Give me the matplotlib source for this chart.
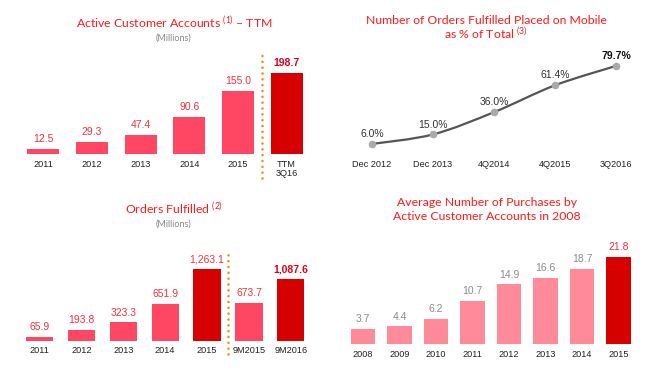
import matplotlib
matplotlib.use("Agg")
import matplotlib.pyplot as plt
from matplotlib.path import Path
from matplotlib.patches import PathPatch
import numpy as np

# ---------------- data ----------------
acct_labels = ["2011", "2012", "2013", "2014", "2015", "TTM\n3Q16"]
acct_values = [12.5, 29.3, 47.4, 90.6, 155.0, 198.7]
acct_text = ["12.5", "29.3", "47.4", "90.6", "155.0", "198.7"]

mobile_labels = ["Dec 2012", "Dec 2013", "4Q2014", "4Q2015", "3Q2016"]
mobile_values = [6.0, 15.0, 36.0, 61.4, 79.7]

orders_labels = ["2011", "2012", "2013", "2014", "2015", "9M2015", "9M2016"]
orders_values = [65.9, 193.8, 323.3, 651.9, 1263.1, 673.7, 1087.6]
orders_text = ["65.9", "193.8", "323.3", "651.9", "1,263.1", "673.7", "1,087.6"]

purch_labels = ["2008", "2009", "2010", "2011", "2012", "2013", "2014", "2015"]
purch_values = [3.7, 4.4, 6.2, 10.7, 14.9, 16.6, 18.7, 21.8]

# ---------------- style ----------------
plt.rcParams["mathtext.fontset"] = "custom"
plt.rcParams["mathtext.rm"] = "Lato"
plt.rcParams["mathtext.it"] = "Lato:italic"
plt.rcParams["mathtext.bf"] = "Lato:bold"

W, H = 660, 383
PINK = "#FF4763"
DARK = "#D70000"
LIGHT = "#FF8A99"
VALRED = "#F5303F"
BOLDRED = "#E0001B"
TITLE = "#FF1A1A"
ORANGE = "#F28C28"
TFONT = ["Lato", "DejaVu Sans"]
LFONT = ["Liberation Sans", "DejaVu Sans"]
TSIZE = 8.8
VSIZE = 7.5
KSIZE = 6.6

fig = plt.figure(figsize=(W / 100, H / 100), dpi=100)
fig.patch.set_facecolor("white")


def add_ax(x0, x1, ybase, ytop):
    # pixel coords (from top) -> figure fraction
    return fig.add_axes([x0 / W, (H - ybase) / H, (x1 - x0) / W, (ybase - ytop) / H])


def clean(ax):
    for s in ax.spines.values():
        s.set_visible(False)
    ax.set_yticks([])
    ax.tick_params(axis="x", length=0, pad=4)
    ax.set_facecolor("none")


def ftext(x, y, s, **kw):
    fig.text(x / W, 1 - y / H, s, ha="center", va="center", **kw)


DOTS = dict(color=ORANGE, lw=1.9, linestyle=(0, (0.01, 2.2)), dash_capstyle="round", clip_on=False)

# ---------------- top-left: active customer accounts ----------------
ax1 = add_ax(19, 311, 154, 52)
clean(ax1)
x = np.arange(len(acct_values))
cols = [PINK] * 5 + [DARK]
ax1.bar(x, acct_values, width=0.66, color=cols)
ax1.set_xlim(-0.5, len(acct_values) - 0.5)
ax1.set_ylim(0, 250)
ax1.set_xticks(x)
ax1.set_xticklabels(acct_labels, fontsize=KSIZE, family=LFONT, color="#222222", linespacing=1.1)
for i, (v, t) in enumerate(zip(acct_values, acct_text)):
    last = i == len(acct_values) - 1
    ax1.annotate(t, (i, v), xytext=(0, 3.5), textcoords="offset points", ha="center", va="bottom",
                 fontsize=VSIZE, family=LFONT, color=BOLDRED if last else VALRED,
                 fontweight="bold" if last else "normal")
ax1.plot([4.5, 4.5], [-59, 255], **DOTS)
ftext(174, 23, "Active Customer Accounts $^{(1)}$ – TTM", fontsize=TSIZE, color=TITLE, family=TFONT)
ftext(174, 38, "(Millions)", fontsize=6.5, color="#888888", family=TFONT)

# ---------------- top-right: mobile share ----------------
ax2 = add_ax(341.5, 646.5, 150.3, 55)
clean(ax2)
xm = np.arange(len(mobile_values), dtype=float)
ym = np.array(mobile_values)
# smooth curve through the points using Bezier segments (Catmull-Rom control points)
verts = [(xm[0], ym[0])]
codes = [Path.MOVETO]
n = len(xm)
for i in range(n - 1):
    p0 = (xm[max(i - 1, 0)], ym[max(i - 1, 0)])
    p1 = (xm[i], ym[i])
    p2 = (xm[i + 1], ym[i + 1])
    p3 = (xm[min(i + 2, n - 1)], ym[min(i + 2, n - 1)])
    c1 = (p1[0] + (p2[0] - p0[0]) / 6, p1[1] + (p2[1] - p0[1]) / 6)
    c2 = (p2[0] - (p3[0] - p1[0]) / 6, p2[1] - (p3[1] - p1[1]) / 6)
    verts += [c1, c2, p2]
    codes += [Path.CURVE4] * 3
ax2.add_patch(PathPatch(Path(verts, codes), facecolor="none", edgecolor="#555555", lw=1.6))
ax2.scatter(xm, ym, s=20, color="#AAAAAA", zorder=3)
ax2.set_xlim(-0.5, n - 0.5)
ax2.set_ylim(0, 90)
ax2.set_xticks(xm)
ax2.set_xticklabels(mobile_labels, fontsize=KSIZE, family=LFONT, color="#222222")
ax2.tick_params(axis="x", pad=7)
for i, v in enumerate(mobile_values):
    last = i == n - 1
    ax2.annotate(f"{v:.1f}%", (i, v), xytext=(0, 3.5), textcoords="offset points", ha="center",
                 va="bottom", fontsize=VSIZE, family=LFONT, color="#111111" if last else "#333333",
                 fontweight="bold" if last else "normal")
ftext(486, 20, "Number of Orders Fulfilled Placed on Mobile", fontsize=TSIZE, color=TITLE, family=TFONT)
ftext(486, 34, "as % of Total $^{(3)}$", fontsize=TSIZE, color=TITLE, family=TFONT)

# ---------------- bottom-left: orders fulfilled ----------------
ax3 = add_ax(18.5, 311.8, 340.7, 250)
clean(ax3)
x = np.arange(len(orders_values))
cols = [PINK, PINK, PINK, PINK, DARK, PINK, DARK]
ax3.bar(x, orders_values, width=0.65, color=cols)
ax3.set_xlim(-0.5, len(orders_values) - 0.5)
ax3.set_ylim(0, 1600)
ax3.set_xticks(x)
ax3.set_xticklabels(orders_labels, fontsize=KSIZE, family=LFONT, color="#222222")
for i, (v, t) in enumerate(zip(orders_values, orders_text)):
    last = i == len(orders_values) - 1
    ax3.annotate(t, (i, v), xytext=(0, 3.5), textcoords="offset points", ha="center", va="bottom",
                 fontsize=VSIZE, family=LFONT, color=BOLDRED if last else VALRED,
                 fontweight="bold" if last else "normal")
ax3.plot([4.5, 4.5], [-240, 1574], **DOTS)
ftext(174, 209, "Orders Fulfilled $^{(2)}$", fontsize=TSIZE, color=TITLE, family=TFONT)
ftext(174, 224, "(Millions)", fontsize=6.5, color="#888888", family=TFONT)

# ---------------- bottom-right: purchases ----------------
ax4 = add_ax(344.75, 636.75, 344, 240)
clean(ax4)
x = np.arange(len(purch_values))
cols = [LIGHT] * 7 + [DARK]
ax4.bar(x, purch_values, width=0.67, color=cols)
ax4.set_xlim(-0.5, len(purch_values) - 0.5)
ax4.set_ylim(0, 26)
ax4.set_xticks(x)
ax4.set_xticklabels(purch_labels, fontsize=KSIZE, family=LFONT, color="#222222")
for i, v in enumerate(purch_values):
    last = i == len(purch_values) - 1
    ax4.annotate(f"{v:.1f}", (i, v), xytext=(0, 3.5), textcoords="offset points", ha="center",
                 va="bottom", fontsize=VSIZE, family=LFONT, color=VALRED if last else "#8C8C8C")
ftext(487, 203, "Average Number of Purchases by", fontsize=TSIZE, color=TITLE, family=TFONT)
ftext(487, 216.5, "Active Customer Accounts in 2008", fontsize=TSIZE, color=TITLE, family=TFONT)

fig.savefig("out.png", dpi=100, facecolor="white")
